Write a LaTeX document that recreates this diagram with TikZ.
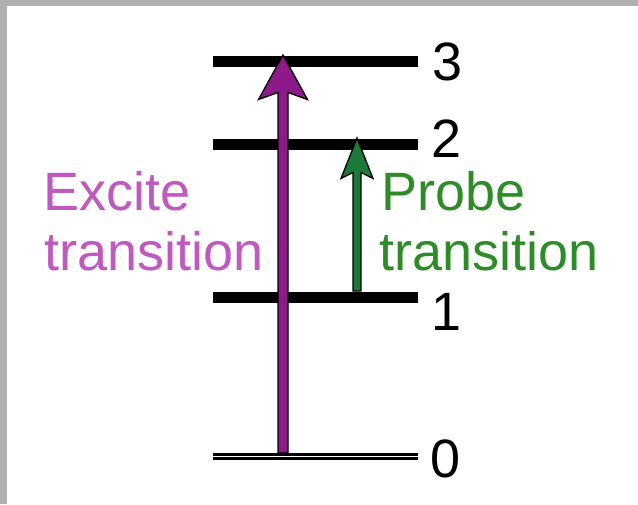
\documentclass[tikz,border=0pt]{standalone}
\usepackage{fontspec}
\setmainfont{Liberation Sans}
\definecolor{exciteText}{HTML}{BF58BF}
\definecolor{probeText}{HTML}{2E8C28}
\definecolor{exciteFill}{HTML}{8C1A8A}
\definecolor{probeFill}{HTML}{1B7A3A}
\definecolor{frameGray}{HTML}{B0B0B0}
\tikzset{
  level/.style={line width=11pt, black},
  lbl/.style={anchor=base west, inner sep=0pt, font=\fontsize{54}{62}\selectfont},
  arrowshape/.style={draw=black, line width=1.3pt, line join=miter},
}
\begin{document}
\begin{tikzpicture}[x=1pt,y=-1pt]
\useasboundingbox (0,0) rectangle (638,504);
\fill[white] (0,0) rectangle (638,504);
\fill[frameGray] (0,0) rectangle (638,6);
\fill[frameGray] (0,0) rectangle (7,504);

% energy levels
\coordinate (L3a) at (213,61);   \coordinate (L3b) at (418,61);
\coordinate (L2a) at (213,144);  \coordinate (L2b) at (418,144);
\coordinate (L1a) at (213,297.5);\coordinate (L1b) at (418,297.5);
\coordinate (L0a) at (213,456.7);\coordinate (L0b) at (418,456.7);
\draw[level] (L3a) -- (L3b);
\draw[level] (L2a) -- (L2b);
\draw[level] (L1a) -- (L1b);
\draw[line width=7pt, black] (L0a) -- (L0b);
\draw[line width=1.3pt, white] (L0a) -- (L0b);

% excite arrow
\coordinate (exTip) at (283,55);
\coordinate (exBase) at (283,453);
\filldraw[arrowshape, fill=exciteFill]
  (exTip) -- (258.5,99.5) -- (278,92.5) -- (278,453) -- (288,453)
  -- (288,92.5) -- (307.5,99.5) -- cycle;

% probe arrow
\coordinate (prTip) at (357,138);
\coordinate (prBase) at (357,291);
\filldraw[arrowshape, fill=probeFill]
  (prTip) -- (341,178.5) -- (353,172.5) -- (353,291) -- (361,291)
  -- (361,172.5) -- (373,178.5) -- cycle;

% level numbers
\node[lbl] (n3) at (432.5,80) {3};
\node[lbl] (n2) at (431,157) {2};
\node[lbl] (n1) at (431,330) {1};
\node[lbl] (n0) at (430,477) {0};

% transition labels
\node[lbl, text=exciteText] (ex1) at (43,210) {Excite};
\node[lbl, text=exciteText] (ex2) at (44,270) {transition};
\node[lbl, text=probeText] (pr1) at (381,210) {Probe};
\node[lbl, text=probeText] (pr2) at (379,270) {transition};
\end{tikzpicture}
\end{document}
